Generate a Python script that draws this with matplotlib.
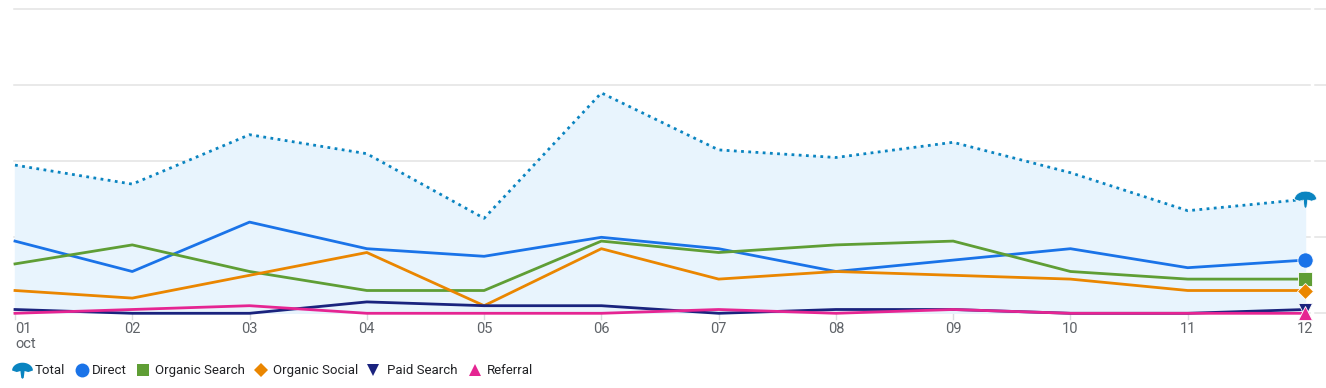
import matplotlib.pyplot as plt
from matplotlib.lines import Line2D
from matplotlib.path import Path
import numpy as np

plt.rcParams["font.family"] = ["Roboto", "DejaVu Sans"]

days = ["01", "02", "03", "04", "05", "06", "07", "08", "09", "10", "11", "12"]
month = "oct"

total = [39, 34, 47, 42, 25, 58, 43, 41, 45, 37, 27, 30]
direct = [19, 11, 24, 17, 15, 20, 17, 11, 14, 17, 12, 14]
organic_search = [13, 18, 11, 6, 6, 19, 16, 18, 19, 11, 9, 9]
organic_social = [6, 4, 10, 16, 2, 17, 9, 11, 10, 9, 6, 6]
paid_search = [1, 0, 0, 3, 2, 2, 0, 1, 1, 0, 0, 1]
referral = [0, 1, 2, 0, 0, 0, 1, 0, 1, 0, 0, 0]

y_grid = [0, 20, 40, 60, 80]

# umbrella-like marker for "Total"
theta = np.linspace(0, np.pi, 20)
verts = [(np.cos(t), np.sin(t) * 0.75) for t in theta]
verts += [(-0.55, -0.15), (-0.2, -0.05), (-0.12, -0.7), (0, -0.8),
          (0.12, -0.7), (0.2, -0.05), (0.55, -0.15), (1, 0)]
umbrella = Path(verts + [verts[0]], [Path.MOVETO] + [Path.LINETO] * (len(verts) - 1) + [Path.CLOSEPOLY])

series = [
    ("Direct", direct, "#1a73e8", "o", 10),
    ("Organic Search", organic_search, "#5f9e35", "s", 9),
    ("Organic Social", organic_social, "#ea8600", "D", 7.5),
    ("Paid Search", paid_search, "#1a237e", "v", 9),
    ("Referral", referral, "#e52592", "^", 9),
]
total_color = "#0a84c0"

fig = plt.figure(figsize=(13.26, 3.88), dpi=100)
W, H = 1326, 388
step = 1290 / 11
ax = fig.add_axes([14 / W, (H - 313.3) / H, 1 - 14 / W, (313.3 - 5) / H])
ax.set_xlim(-1 / step, 11 + (W - 1305) / step)
ax.set_ylim(0, 80 + 4.3 / 3.8)
for s in ax.spines.values():
    s.set_visible(False)
ax.set_xticks([])
ax.set_yticks([])

x = np.arange(len(days))
xr = 11 + 5 / step
for g in y_grid:
    ax.plot([-1 / step, xr], [g, g], color="#e3e3e3", lw=1.1, zorder=0, clip_on=False)
    ax.plot([xr + 5 / step, ax.get_xlim()[1]], [g, g], color="#e3e3e3", lw=1.1, zorder=0, clip_on=False)

ax.fill_between(x, total, 0, color="#e8f4fd", zorder=1)
ax.plot(x, total, color=total_color, lw=2, linestyle=(0, (1, 1.6)), zorder=3)
ax.plot(x[-1], total[-1], marker=umbrella, ms=16, color=total_color, mec="white", mew=0.5, zorder=6)

for name, vals, col, mk, ms in series:
    ax.plot(x, vals, color=col, lw=2, zorder=4, clip_on=False)
    ax.plot(x[-1], vals[-1], marker=mk, ms=ms + 1, color=col, mec="white", mew=0.6, zorder=5, clip_on=False)

# x tick marks and labels
for i, d in enumerate(days):
    ax.plot([i, i], [0, -6 / 3.8], color="#dadce0", lw=1, clip_on=False, zorder=0)
    ax.text(i, -2.3, d, ha="left" if i == 0 else "center", va="top",
            fontsize=10.5, color="#5f6368")
ax.text(0, -6.3, month, ha="left", va="top", fontsize=10.5, color="#5f6368")

# legend
leg_y = 1 - 369.5 / H
items = [("Total", total_color, umbrella, 15, 22, 35)]
pos = [(82, 92), (143, 155), (261, 273), (373, 387), (475, 487)]
for (name, vals, col, mk, ms), (mx, tx) in zip(series, pos):
    items.append((name, col, mk, ms, mx, tx))
for name, col, mk, ms, mx, tx in items:
    fig.add_artist(Line2D([mx / W], [leg_y], transform=fig.transFigure, marker=mk,
                          ms=ms, color=col, mew=0, linestyle="none"))
    fig.text(tx / W, leg_y - 1 / H, name, ha="left", va="center", fontsize=9.5, color="#202124")

fig.savefig("out.png", dpi=100)
